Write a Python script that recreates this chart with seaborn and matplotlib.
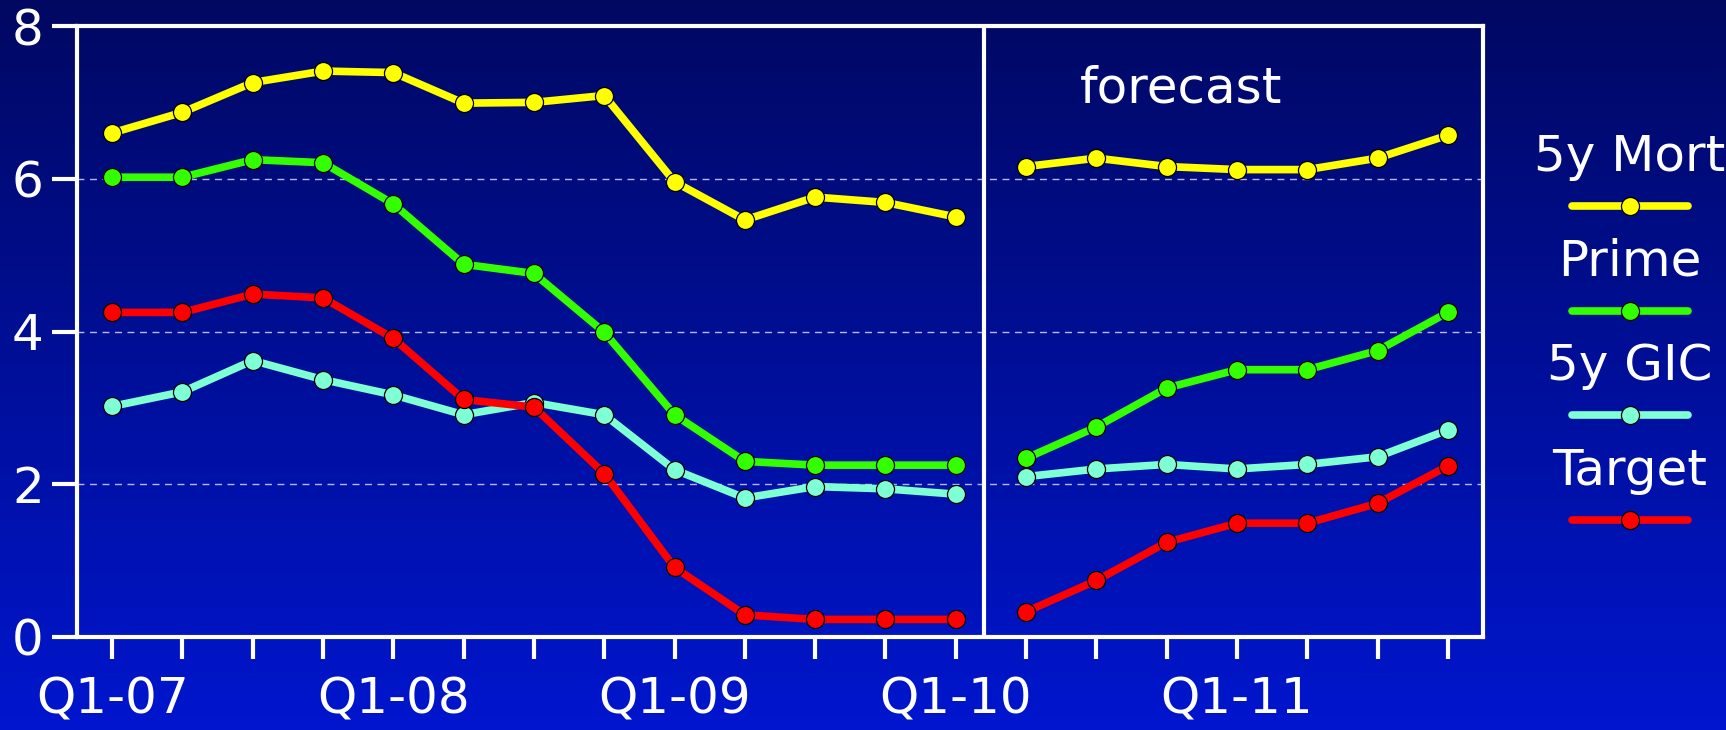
import numpy as np
import pandas as pd
import matplotlib
matplotlib.use("Agg")
import matplotlib.pyplot as plt
import seaborn as sns
from matplotlib.colors import LinearSegmentedColormap

# quarters Q1-07 .. Q4-11
quarters = [f"Q{q}-{y:02d}" for y in range(7, 12) for q in range(1, 5)]
tick_labels = [lab if lab.startswith("Q1") else "" for lab in quarters]

series_names = ["5y Mort", "Prime", "5y GIC", "Target"]
series_colors = ["#FFFF00", "#33FF00", "#7FFFD4", "#FF0000"]

# history: Q1-07 .. Q1-10 (13 points), forecast: Q2-10 .. Q4-11 (7 points)
mort_hist = [6.60, 6.87, 7.26, 7.41, 7.39, 6.99, 7.00, 7.09, 5.96, 5.46, 5.76, 5.69, 5.50]
mort_fcst = [6.16, 6.27, 6.16, 6.12, 6.12, 6.27, 6.57]
prime_hist = [6.02, 6.02, 6.25, 6.21, 5.67, 4.88, 4.76, 3.99, 2.91, 2.30, 2.25, 2.25, 2.25]
prime_fcst = [2.34, 2.75, 3.26, 3.50, 3.50, 3.75, 4.25]
gic_hist = [3.02, 3.21, 3.62, 3.37, 3.17, 2.91, 3.07, 2.91, 2.19, 1.82, 1.97, 1.94, 1.87]
gic_fcst = [2.10, 2.20, 2.26, 2.20, 2.26, 2.36, 2.71]
target_hist = [4.25, 4.25, 4.49, 4.44, 3.91, 3.11, 3.01, 2.14, 0.91, 0.29, 0.23, 0.23, 0.23]
target_fcst = [0.33, 0.74, 1.24, 1.49, 1.49, 1.75, 2.24]

hist = {"5y Mort": mort_hist, "Prime": prime_hist, "5y GIC": gic_hist, "Target": target_hist}
fcst = {"5y Mort": mort_fcst, "Prime": prime_fcst, "5y GIC": gic_fcst, "Target": target_fcst}

rows = []
for name in series_names:
    for i, v in enumerate(hist[name]):
        rows.append({"series": name, "idx": i, "rate": v, "seg": name + "_h"})
    n_h = len(hist[name])
    for i, v in enumerate(fcst[name]):
        rows.append({"series": name, "idx": n_h + i, "rate": v, "seg": name + "_f"})
df = pd.DataFrame(rows)

sns.set_style("white")
plt.rcParams["font.family"] = ["DejaVu Sans"]

W, H = 1726, 730
fig = plt.figure(figsize=(W / 100, H / 100), dpi=100)

# gradient background
bg = fig.add_axes([0, 0, 1, 1], zorder=-10)
grad = LinearSegmentedColormap.from_list("bg", ["#000862", "#0016CE"])
bg.imshow(np.linspace(0, 1, 256).reshape(-1, 1), aspect="auto", cmap=grad,
          extent=[0, 1, 0, 1], origin="upper")
bg.set_axis_off()

ax = fig.add_axes([77 / W, 1 - 637 / H, (1483 - 77) / W, (637 - 26) / H])
ax.patch.set_alpha(0)

LW, MS = 5.5, 13
sns.lineplot(data=df, x="idx", y="rate", hue="series", units="seg", estimator=None,
             palette=dict(zip(series_names, series_colors)), hue_order=series_names,
             linewidth=LW, marker="o", markersize=MS, markeredgecolor="black",
             markeredgewidth=0.9, legend=False, ax=ax, zorder=3)
for ln in ax.lines:
    ln.set_solid_joinstyle("round")

ax.set_xlim(-0.5, 19.5)
ax.set_ylim(0, 8)
ax.set_xticks(range(len(quarters)))
ax.set_xticklabels(tick_labels)
ax.set_yticks([0, 2, 4, 6, 8])
ax.set_xlabel("")
ax.set_ylabel("")

for y in [2, 4, 6]:
    ax.axhline(y, color="#B8B8F0", linestyle=(0, (5, 4)), linewidth=1.0, zorder=1)
ax.axvline(12.4, color="white", linewidth=3, zorder=2)
ax.text(15.2, 7.0, "forecast", color="white", fontsize=36, ha="center", va="baseline")

for s in ax.spines.values():
    s.set_color("white")
    s.set_linewidth(3)
ax.tick_params(axis="x", bottom=True, colors="white", length=16, width=3,
               direction="out", labelsize=36, pad=12)
ax.tick_params(axis="y", left=True, colors="white", length=18, width=3,
               direction="out", labelsize=36, pad=6)
for t in ax.xaxis.get_ticklines() + ax.yaxis.get_ticklines():
    t.set_solid_capstyle("round")

# legend, label above each line sample
lax = fig.add_axes([1483 / W, 0, 1 - 1483 / W, 1])
lax.set_xlim(0, W - 1483)
lax.set_ylim(H, 0)
lax.set_axis_off()
lx0, lx1 = 1572 - 1483, 1688 - 1483
for k, (name, col) in enumerate(zip(series_names, series_colors)):
    ly = 206 + k * 104.7
    lax.text((lx0 + lx1) / 2, ly - 35, name, color="white", fontsize=36,
             ha="center", va="baseline")
    lax.plot([lx0, lx1], [ly, ly], color=col, linewidth=LW, solid_capstyle="round")
    lax.plot([(lx0 + lx1) / 2], [ly], marker="o", markersize=MS, color=col,
             markeredgecolor="black", markeredgewidth=0.9)

fig.savefig("out.png", dpi=100)
